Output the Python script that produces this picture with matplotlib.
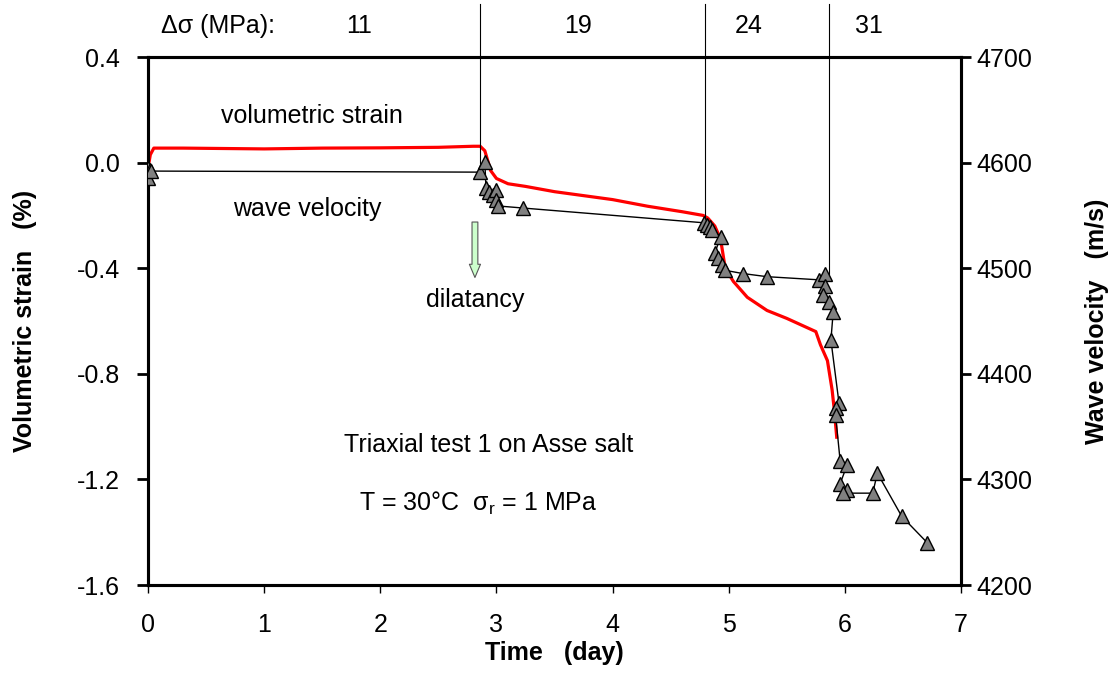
import matplotlib
matplotlib.use("Agg")
import matplotlib.pyplot as plt

plt.rcParams['font.family'] = ['Liberation Sans', 'DejaVu Sans']
FS = 18

# volumetric strain (%) vs time (day)
strain_day = [0.00, 0.02, 0.05, 0.3, 1.0, 1.5, 2.0, 2.5, 2.80, 2.86, 2.90,
              2.95, 3.00, 3.10, 3.25, 3.5, 4.0, 4.3, 4.6, 4.78, 4.82, 4.88,
              4.93, 4.97, 5.04, 5.16, 5.33, 5.50, 5.70, 5.75, 5.79, 5.85,
              5.89, 5.91, 5.93]
strain = [-0.02, 0.03, 0.055, 0.055, 0.052, 0.055, 0.056, 0.058, 0.062,
          0.062, 0.045, -0.03, -0.06, -0.08, -0.09, -0.11, -0.14, -0.165,
          -0.186, -0.20, -0.21, -0.24, -0.29, -0.40, -0.45, -0.51, -0.56,
          -0.59, -0.63, -0.64, -0.69, -0.75, -0.86, -0.94, -1.04]

# wave velocity (m/s) vs time (day)
vel_day = [0.00, 0.00, 0.02, 0.03, 2.86, 2.90, 2.91, 2.94, 2.97, 3.00, 3.00,
           3.01, 3.23, 4.79, 4.81, 4.84, 4.86, 4.93, 4.88, 4.91, 4.94, 4.97,
           5.12, 5.33, 5.78, 5.83, 5.83, 5.81, 5.86, 5.90, 5.88, 5.95, 5.92,
           5.92, 5.96, 6.02, 5.96, 6.02, 5.98, 6.24, 6.28, 6.49, 6.71]
velocity = [4585, 4595, 4593, 4592, 4591, 4601, 4576, 4572, 4569, 4574, 4565,
            4559, 4557, 4543, 4541, 4539, 4536, 4530, 4514, 4510, 4503, 4498,
            4495, 4492, 4489, 4495, 4483, 4475, 4468, 4459, 4432, 4372, 4368,
            4361, 4317, 4314, 4296, 4290, 4287, 4287, 4306, 4265, 4240]

# stress steps
step_day = [2.86, 4.80, 5.86]
step_vel = [4595, 4545, 4495]
stress_labels = ['11', '19', '24', '31']
stress_label_day = [1.82, 3.70, 5.17, 6.21]

fig = plt.figure(figsize=(11.12, 6.79), dpi=100)
ax = fig.add_axes([0.1331, 0.1384, 0.7311, 0.7776])
ax2 = ax.twinx()

ax.plot(strain_day, strain, color='red', lw=2.3, zorder=2)
ax2.plot(vel_day, velocity, color='black', lw=1.0, marker='^', ms=9.5,
         mfc='#808080', mec='black', mew=1.0, zorder=3)

for d, v in zip(step_day, step_vel):
    ax2.plot([d, d], [v, 4750], color='black', lw=0.8, clip_on=False)

ax.set_xlim(0, 7)
ax.set_ylim(-1.6, 0.4)
ax2.set_ylim(4200, 4700)
ax.set_xticks(range(8))
ax.set_yticks([-1.6, -1.2, -0.8, -0.4, 0.0, 0.4])
ax.set_yticklabels(['-1.6', '-1.2', '-0.8', '-0.4', '0.0', '0.4'])
ax2.set_yticks(range(4200, 4701, 100))

for a in (ax, ax2):
    for s in a.spines.values():
        s.set_linewidth(2.2)
ax.tick_params(axis='x', labelsize=FS, width=1.0, length=6, pad=14,
               direction='out')
ax.tick_params(axis='y', labelsize=FS, width=2.0, length=8, pad=12,
               direction='out')
ax2.tick_params(axis='y', labelsize=FS, width=2.0, length=7, pad=4,
                direction='out')

ax.set_xlabel('Time   (day)', fontsize=FS, fontweight='bold', labelpad=3)
ax.set_ylabel('Volumetric strain   (%)', fontsize=FS, fontweight='bold',
              labelpad=29)
ax2.set_ylabel('Wave velocity   (m/s)', fontsize=FS, fontweight='bold',
               labelpad=38)

ax.text(1.41, 0.177, 'volumetric strain', fontsize=FS, ha='center', va='center')
ax.text(1.37, -0.175, 'wave velocity', fontsize=FS, ha='center', va='center')
ax.text(2.82, -0.52, 'dilatancy', fontsize=FS, ha='center', va='center')
ax.annotate('', xy=(2.815, -0.435), xytext=(2.815, -0.225),
            arrowprops=dict(arrowstyle='simple,head_width=0.8,head_length=0.95,tail_width=0.42',
                            fc='#ccffcc', ec='#555555', lw=0.8,
                            mutation_scale=10, shrinkA=0, shrinkB=0))
ax.text(2.93, -1.07, 'Triaxial test 1 on Asse salt', fontsize=FS,
        ha='center', va='center')
ax.text(2.84, -1.29, 'T = 30°C  σ$_\\mathregular{r}$ = 1 MPa', fontsize=FS,
        ha='center', va='center')

fig.text(218 / 1112, 1 - 26 / 679, 'Δσ (MPa):', fontsize=FS,
         ha='center', va='center')
for d, lab in zip(stress_label_day, stress_labels):
    ax.text(d, 0.4 + 31 / 264, lab, fontsize=FS, ha='center', va='center')

fig.savefig('out.png', dpi=100)
